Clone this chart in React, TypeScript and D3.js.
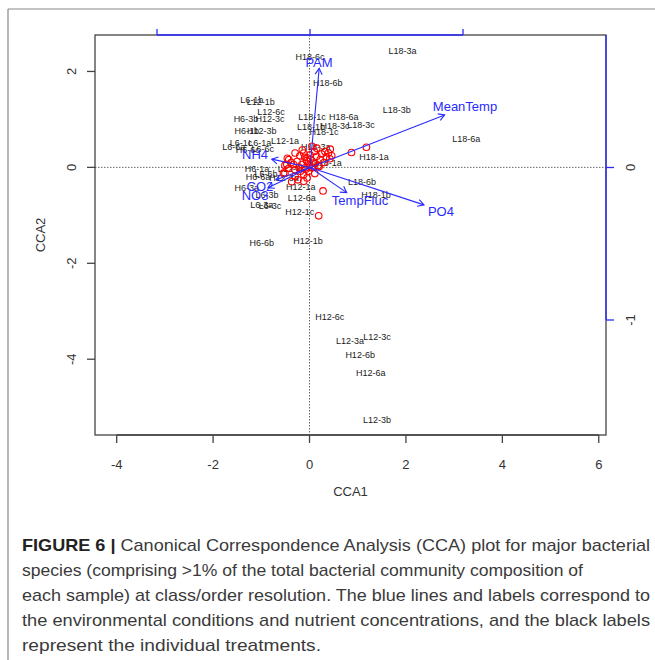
import React from "react";
import * as d3 from "d3";

// ---- Data ----
const siteNames = [
  "H18-6c","L18-3a","H18-6b","L18-3b","L18-6a","L18-1c","H18-6a","L18-1b","H18-3c","L18-3c",
  "H18-1c","H18-3a","H18-1a","L18-1a","L18-6b","H18-1b",
  "L6-1b","L12-1b","L12-6c","H6-3b","H12-3c","H6-1b","H12-3b","L6-1c","L6-1a","L12-1a",
  "L6-6a","H6-6c","L6-6c","H6-1a","L12-6b","H6-6a","L6-6b","H12-3a","H6-3a","L6-3b",
  "L6-3a","L6-3c","H12-1a","L12-6a","H12-1c","H6-6b","H12-1b",
  "H12-6c","L12-3a","L12-3c","H12-6b","H12-6a","L12-3b"
];
const siteX = [
  0.01,1.93,0.38,1.81,3.25,0.05,0.71,0.03,0.53,1.07,
  0.30,0.13,1.34,0.38,1.09,1.38,
  -1.20,-1.01,-0.80,-1.32,-0.82,-1.30,-0.99,-1.42,-1.03,-0.51,
  -1.57,-1.28,-0.97,-1.09,-0.37,-1.07,-0.90,-0.53,-1.30,-0.88,
  -0.99,-0.82,-0.18,-0.16,-0.20,-0.99,-0.03,
  0.42,0.84,1.40,1.05,1.27,1.40
];
const siteY = [
  2.31,2.42,1.76,1.20,0.60,1.04,1.04,0.85,0.87,0.89,
  0.74,0.43,0.22,0.10,-0.30,-0.57,
  1.41,1.37,1.16,1.01,1.01,0.76,0.76,0.51,0.51,0.54,
  0.43,0.37,0.39,-0.03,-0.03,-0.21,-0.13,-0.23,-0.44,-0.57,
  -0.78,-0.80,-0.40,-0.63,-0.94,-1.57,-1.53,
  -3.11,-3.63,-3.53,-3.92,-4.28,-5.26
];

const speciesX = [
  -0.20,-0.10,0.01,0.15,0.25,0.39,0.42,0.87,1.18,-0.46,
  -0.12,-0.05,0.05,0.15,-0.26,-0.30,-0.33,-0.16,-0.09,-0.02,
  -0.12,-0.19,-0.43,-0.47,-0.54,-0.02,0.08,0.05,0.22,0.32,
  0.43,0.46,0.28,0.19,-0.05,-0.30,-0.12,-0.43,-0.51,-0.30,
  -0.51,0.11,0.18,-0.24,-0.37,0.00,0.06,-0.06,0.12,0.30,
  -0.22,-0.08,0.02,0.20,-0.38,0.35,0.10,-0.15
];
const speciesY = [
  0.24,0.21,0.26,0.23,0.28,0.30,0.18,0.31,0.42,0.19,
  0.30,0.20,0.44,0.40,0.12,-0.05,0.06,0.06,-0.01,-0.08,
  -0.15,-0.08,0.16,0.06,-0.12,0.12,0.09,-0.01,0.16,0.33,
  0.38,0.24,-0.49,-1.01,-0.22,-0.19,-0.29,-0.02,-0.12,0.30,
  0.04,-0.13,0.04,-0.26,-0.30,0.05,0.00,0.14,0.08,0.10,
  0.00,-0.04,0.17,0.02,0.10,0.22,0.33,0.36
];

const envNames = ["PAM","MeanTemp","PO4","TempFluc","NH4","CO2","NO3"];
const envX = [0.06,0.88,0.745,0.24,-0.25,-0.222,-0.275];
const envY = [0.65,0.345,-0.245,-0.165,0.055,-0.08,-0.133];
const envLabelX = [0.059,1.013,0.856,0.327,-0.359,-0.327,-0.359];
const envLabelY = [0.69,0.397,-0.289,-0.218,0.083,-0.126,-0.185];

const xTicks = [-4,-2,0,2,4,6];
const yTicks = [-4,-2,0,2];
const bTopTicks = [-1,0,1];
const bRightTicks = [-1,0];

const captionBold = "FIGURE 6 | ";
const captionLines = [
  "Canonical Correspondence Analysis (CCA) plot for major bacterial",
  "species (comprising >1% of the total bacterial community composition of",
  "each sample) at class/order resolution. The blue lines and labels correspond to",
  "the environmental conditions and nutrient concentrations, and the black labels",
  "represent the individual treatments."
];

export default function App() {
  const L = 95, R = 606, T = 35, B = 435;
  const x = d3.scaleLinear().domain([-4.45, 6.15]).range([L, R]);
  const y = d3.scaleLinear().domain([-5.58, 2.76]).range([B, T]);
  const bx = d3.scaleLinear().domain([-1, 1]).range([157, 463]);
  const by = d3.scaleLinear().domain([-1, 0]).range([320, 167.5]);
  const font = "Liberation Sans, Arial, sans-serif";
  const axisCol = "#444";
  const blue = "#2a2aff";

  const arrowHead = (i: number) => {
    const x0 = bx(0), y0 = by(0);
    const x1 = bx(envX[i]), y1 = by(envY[i]);
    const ang = Math.atan2(y1 - y0, x1 - x0);
    const len = 7, spread = Math.PI / 6;
    const p1 = [x1 - len * Math.cos(ang - spread), y1 - len * Math.sin(ang - spread)];
    const p2 = [x1 - len * Math.cos(ang + spread), y1 - len * Math.sin(ang + spread)];
    return `M${p1[0]},${p1[1]}L${x1},${y1}L${p2[0]},${p2[1]}`;
  };

  const captionEnds = [650, 583, 650, 650, 321];
  const capY0 = 551, capDy = 25;

  return (
    <svg width={655} height={660} style={{ position: "absolute", left: 0, top: 0, background: "#fff" }}>
      {/* figure border */}
      <line x1={8} y1={9} x2={655} y2={9} stroke="#888" strokeWidth={1.2} />
      <line x1={8} y1={9} x2={8} y2={660} stroke="#888" strokeWidth={1.2} />

      {/* dotted zero lines */}
      <line x1={L} x2={R} y1={y(0)} y2={y(0)} stroke="#666" strokeDasharray="1.5,1.5" strokeWidth={1} />
      <line x1={x(0)} x2={x(0)} y1={T} y2={B} stroke="#666" strokeDasharray="1.5,1.5" strokeWidth={1} />

      {/* site labels */}
      {siteNames.map((n, i) => (
        <text key={n + i} x={x(siteX[i])} y={y(siteY[i])} fontFamily={font} fontSize={9}
          textAnchor="middle" dominantBaseline="central" fill="#1a1a1a">{n}</text>
      ))}

      {/* species points */}
      {speciesX.map((v, i) => (
        <circle key={i} cx={x(v)} cy={y(speciesY[i])} r={3.3} fill="none" stroke="#ff0000" strokeWidth={1.1} />
      ))}

      {/* biplot arrows */}
      {envNames.map((n, i) => (
        <g key={n}>
          <line x1={bx(0)} y1={by(0)} x2={bx(envX[i])} y2={by(envY[i])} stroke={blue} strokeWidth={1.1} />
          <path d={arrowHead(i)} fill="none" stroke={blue} strokeWidth={1.1} />
          <text x={bx(envLabelX[i])} y={by(envLabelY[i])} fontFamily={font} fontSize={13}
            textAnchor="middle" dominantBaseline="central" fill={blue}>{n}</text>
        </g>
      ))}

      {/* plot box */}
      <rect x={L} y={T} width={R - L} height={B - T} fill="none" stroke={axisCol} strokeWidth={1.3} />

      {/* bottom axis */}
      <line x1={x(xTicks[0])} x2={x(xTicks[xTicks.length - 1])} y1={B} y2={B} stroke={axisCol} strokeWidth={1.3} />
      {xTicks.map(t => (
        <g key={"x" + t}>
          <line x1={x(t)} x2={x(t)} y1={B} y2={B + 8} stroke={axisCol} strokeWidth={1.3} />
          <text x={x(t)} y={B + 29} fontFamily={font} fontSize={13} textAnchor="middle"
            dominantBaseline="central" fill="#333">{t < 0 ? "-" + Math.abs(t) : String(t)}</text>
        </g>
      ))}
      <text x={(L + R) / 2} y={491} fontFamily={font} fontSize={13} textAnchor="middle"
        dominantBaseline="central" fill="#333">CCA1</text>

      {/* left axis */}
      {yTicks.map(t => (
        <g key={"y" + t}>
          <line x1={L - 8} x2={L} y1={y(t)} y2={y(t)} stroke={axisCol} strokeWidth={1.3} />
          <text transform={`translate(${L - 24},${y(t)}) rotate(-90)`} fontFamily={font} fontSize={13}
            textAnchor="middle" dominantBaseline="central" fill="#333">{t < 0 ? "-" + Math.abs(t) : String(t)}</text>
        </g>
      ))}
      <text transform={`translate(40,${(T + B) / 2}) rotate(-90)`} fontFamily={font} fontSize={13}
        textAnchor="middle" dominantBaseline="central" fill="#333">CCA2</text>

      {/* top biplot axis */}
      <line x1={bx(-1)} x2={bx(1)} y1={T} y2={T} stroke={blue} strokeWidth={1.3} />
      {bTopTicks.map(t => (
        <line key={"bt" + t} x1={bx(t)} x2={bx(t)} y1={T} y2={T - 6} stroke={blue} strokeWidth={1.3} />
      ))}

      {/* right biplot axis */}
      <line x1={R} x2={R} y1={T} y2={by(-1)} stroke={blue} strokeWidth={1.3} />
      {bRightTicks.map(t => (
        <g key={"br" + t}>
          <line x1={R} x2={R + 8} y1={by(t)} y2={by(t)} stroke={blue} strokeWidth={1.3} />
          <text transform={`translate(${R + 24},${by(t)}) rotate(-90)`} fontFamily={font} fontSize={13}
            textAnchor="middle" dominantBaseline="central" fill="#333">{t < 0 ? "-" + Math.abs(t) : String(t)}</text>
        </g>
      ))}

      {/* caption */}
      {captionLines.map((line, i) => (
        <text key={"c" + i} x={22} y={capY0 + i * capDy} fontFamily="'Liberation Sans Narrow', 'Liberation Sans', Arial, sans-serif"
          fontSize={17} fill="#3a3a3a" textLength={captionEnds[i] - 22} lengthAdjust="spacingAndGlyphs">
          {i === 0 ? <tspan fontWeight="bold" fill="#222">{captionBold}</tspan> : null}
          {line}
        </text>
      ))}
    </svg>
  );
}
